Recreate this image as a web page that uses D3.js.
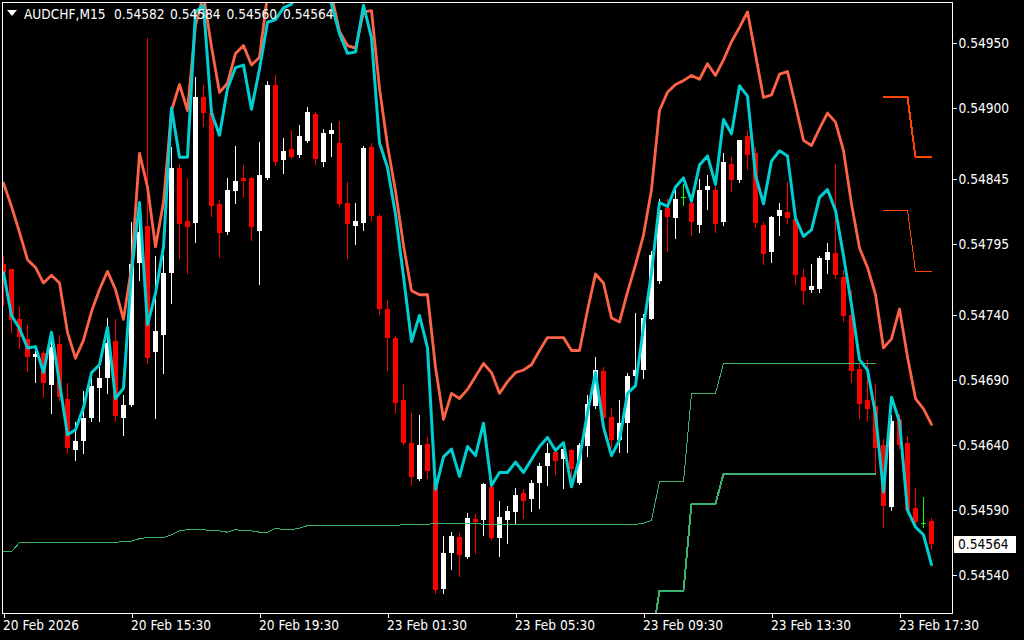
<!DOCTYPE html>
<html><head><meta charset="utf-8">
<script src="https://cdn.jsdelivr.net/npm/d3@7"></script>
<style>html,body{margin:0;padding:0;background:#000;}svg{display:block}</style>
</head><body><svg id="c" width="1024" height="640"></svg>
<script>
const symbolTitle = "AUDCHF,M15";
const headerOHLC = ["0.54582","0.54584","0.54560","0.54564"];
const opens=[0.54780,0.54776,0.54737,0.54722,0.54708,0.54711,0.54687,0.54718,0.54676,0.54636,
0.54643,0.54661,0.54684,0.54692,0.54720,0.54661,0.54671,0.54780,0.54809,0.54712,
0.54725,0.54773,0.54854,0.54813,0.54811,0.54908,0.54896,0.54826,0.54805,0.54836,
0.54846,0.54846,0.54805,0.54846,0.54918,0.54860,0.54868,0.54863,0.54875,0.54895,
0.54859,0.54880,0.54873,0.54827,0.54809,0.54811,0.54870,0.54817,0.54745,0.54723,
0.54675,0.54642,0.54614,0.54641,0.54612,0.54529,0.54557,0.54569,0.54554,0.54583,
0.54582,0.54608,0.54569,0.54582,0.54589,0.54603,0.54599,0.54611,0.54624,0.54635,
0.54629,0.54636,0.54611,0.54640,0.54670,0.54697,0.54662,0.54644,0.54657,0.54693,
0.54698,0.54738,0.54766,0.54823,0.54815,0.54831,0.54827,0.54810,0.54837,0.54837,
0.54812,0.54857,0.54844,0.54878,0.54865,0.54810,0.54789,0.54816,0.54820,0.54814,
0.54770,0.54760,0.54760,0.54783,0.54788,0.54770,0.54740,0.54699,0.54675,0.54670,
0.54640,0.54593,0.54660,0.54642,0.54592,0.54580,0.54582];
const highs=[0.54786,0.54776,0.54747,0.54733,0.54713,0.54713,0.54721,0.54725,0.54688,0.54658,
0.54682,0.54692,0.54700,0.54738,0.54737,0.54679,0.54812,0.54819,0.54954,0.54786,
0.54787,0.54870,0.54857,0.54846,0.54924,0.54918,0.54898,0.54829,0.54846,0.54871,
0.54856,0.54847,0.54874,0.54921,0.54925,0.54877,0.54883,0.54887,0.54901,0.54897,
0.54884,0.54888,0.54890,0.54843,0.54827,0.54871,0.54873,0.54818,0.54752,0.54724,
0.54687,0.54665,0.54663,0.54646,0.54619,0.54570,0.54573,0.54572,0.54588,0.54587,
0.54611,0.54610,0.54597,0.54593,0.54607,0.54606,0.54613,0.54626,0.54642,0.54637,
0.54638,0.54637,0.54642,0.54679,0.54708,0.54700,0.54669,0.54675,0.54696,0.54742,
0.54741,0.54790,0.54830,0.54830,0.54839,0.54841,0.54834,0.54845,0.54848,0.54845,
0.54865,0.54862,0.54875,0.54883,0.54870,0.54812,0.54817,0.54827,0.54843,0.54817,
0.54776,0.54780,0.54786,0.54796,0.54857,0.54775,0.54760,0.54703,0.54706,0.54687,
0.54645,0.54663,0.54664,0.54647,0.54607,0.54600,0.54584];
const lows=[0.54748,0.54727,0.54715,0.54697,0.54689,0.54677,0.54665,0.54675,0.54634,0.54629,
0.54634,0.54659,0.54659,0.54680,0.54659,0.54648,0.54670,0.54767,0.54703,0.54661,
0.54696,0.54750,0.54784,0.54773,0.54797,0.54886,0.54817,0.54785,0.54803,0.54827,
0.54831,0.54798,0.54764,0.54845,0.54856,0.54850,0.54861,0.54862,0.54874,0.54857,
0.54855,0.54863,0.54824,0.54784,0.54795,0.54806,0.54813,0.54741,0.54698,0.54665,
0.54641,0.54609,0.54613,0.54615,0.54526,0.54526,0.54545,0.54539,0.54553,0.54557,
0.54571,0.54568,0.54555,0.54565,0.54580,0.54584,0.54589,0.54592,0.54609,0.54618,
0.54607,0.54608,0.54610,0.54632,0.54669,0.54660,0.54639,0.54635,0.54635,0.54692,
0.54692,0.54737,0.54765,0.54790,0.54800,0.54825,0.54802,0.54804,0.54822,0.54804,
0.54810,0.54836,0.54843,0.54853,0.54808,0.54780,0.54781,0.54802,0.54811,0.54764,
0.54749,0.54758,0.54758,0.54773,0.54769,0.54736,0.54689,0.54661,0.54659,0.54619,
0.54577,0.54590,0.54638,0.54588,0.54580,0.54577,0.54560];
const closes=[0.54773,0.54737,0.54723,0.54708,0.54710,0.54688,0.54716,0.54677,0.54638,0.54643,
0.54661,0.54686,0.54692,0.54719,0.54662,0.54671,0.54780,0.54804,0.54707,0.54728,
0.54773,0.54854,0.54811,0.54808,0.54908,0.54896,0.54824,0.54804,0.54837,0.54844,
0.54844,0.54808,0.54848,0.54918,0.54859,0.54867,0.54862,0.54878,0.54897,0.54860,
0.54881,0.54883,0.54826,0.54811,0.54813,0.54869,0.54817,0.54745,0.54723,0.54673,
0.54642,0.54616,0.54640,0.54620,0.54529,0.54557,0.54570,0.54555,0.54584,0.54581,
0.54610,0.54569,0.54585,0.54589,0.54602,0.54597,0.54611,0.54624,0.54634,0.54628,
0.54637,0.54621,0.54640,0.54672,0.54698,0.54661,0.54644,0.54657,0.54693,0.54698,
0.54738,0.54787,0.54821,0.54816,0.54830,0.54831,0.54812,0.54837,0.54840,0.54811,
0.54858,0.54845,0.54875,0.54863,0.54811,0.54788,0.54816,0.54821,0.54815,0.54771,
0.54759,0.54763,0.54784,0.54789,0.54771,0.54740,0.54697,0.54672,0.54668,0.54638,
0.54593,0.54659,0.54640,0.54590,0.54581,0.54580,0.54564];
const cyanLine=[0.54773,0.54740,0.54730,0.54715,0.54716,0.54696,0.54727,0.54688,0.54648,0.54652,
0.54669,0.54696,0.54702,0.54731,0.54676,0.54684,0.54773,0.54827,0.54733,0.54757,
0.54793,0.54900,0.54862,0.54862,0.54974,0.54979,0.54896,0.54879,0.54915,0.54931,
0.54933,0.54899,0.54930,0.54966,0.54968,0.54977,0.54980,0.54991,0.54998,0.54995,
0.54991,0.54980,0.54957,0.54942,0.54943,0.54979,0.54954,0.54873,0.54854,0.54818,
0.54770,0.54720,0.54740,0.54715,0.54606,0.54631,0.54637,0.54616,0.54639,0.54632,
0.54657,0.54609,0.54619,0.54619,0.54627,0.54619,0.54629,0.54639,0.54646,0.54636,
0.54642,0.54608,0.54630,0.54665,0.54696,0.54654,0.54632,0.54644,0.54680,0.54686,
0.54731,0.54773,0.54827,0.54824,0.54839,0.54846,0.54828,0.54856,0.54863,0.54841,
0.54891,0.54880,0.54917,0.54909,0.54848,0.54826,0.54859,0.54867,0.54863,0.54815,
0.54801,0.54806,0.54831,0.54837,0.54821,0.54786,0.54748,0.54706,0.54698,0.54664,
0.54604,0.54677,0.54658,0.54590,0.54577,0.54571,0.54548];
const orangeLine=[0.54842,0.54824,0.54804,0.54783,0.54777,0.54765,0.54771,0.54765,0.54727,0.54707,
0.54721,0.54743,0.54760,0.54774,0.54760,0.54737,0.54777,0.54865,0.54839,0.54793,
0.54827,0.54898,0.54918,0.54898,0.54964,0.54987,0.54947,0.54912,0.54919,0.54942,
0.54948,0.54933,0.54939,0.54987,0.54995,0.54981,0.54991,0.55002,0.55006,0.55002,
0.54999,0.54987,0.54959,0.54948,0.54946,0.54974,0.54975,0.54915,0.54871,0.54836,
0.54794,0.54759,0.54756,0.54756,0.54700,0.54660,0.54680,0.54676,0.54683,0.54693,
0.54703,0.54696,0.54680,0.54689,0.54696,0.54698,0.54702,0.54713,0.54723,0.54723,
0.54723,0.54713,0.54713,0.54744,0.54772,0.54765,0.54738,0.54735,0.54758,0.54779,
0.54802,0.54837,0.54898,0.54912,0.54918,0.54921,0.54925,0.54922,0.54934,0.54925,
0.54937,0.54951,0.54962,0.54974,0.54941,0.54908,0.54910,0.54926,0.54928,0.54902,
0.54875,0.54871,0.54884,0.54896,0.54889,0.54867,0.54826,0.54792,0.54777,0.54756,
0.54715,0.54722,0.54745,0.54708,0.54676,0.54668,0.54656];
// thin level line (green part: bars 0..109)
const greenThinStart = 0;
const greenThin=[0.54558,0.54558,0.54565,0.54565,0.54565,0.54565,0.54565,0.54565,0.54565,0.54565,
0.54565,0.54565,0.54565,0.54565,0.54565,0.54566,0.54566,0.54568,0.54569,0.54569,
0.54569,0.54571,0.54574,0.54575,0.54575,0.54575,0.54574,0.54574,0.54573,0.54575,
0.54574,0.54574,0.54573,0.54573,0.54576,0.54575,0.54575,0.54576,0.54578,0.54578,
0.54578,0.54578,0.54578,0.54578,0.54578,0.54578,0.54578,0.54578,0.54578,0.54578,
0.54579,0.54579,0.54579,0.54579,0.54580,0.54580,0.54580,0.54580,0.54580,0.54580,
0.54579,0.54579,0.54579,0.54579,0.54579,0.54579,0.54579,0.54579,0.54579,0.54579,
0.54579,0.54579,0.54579,0.54579,0.54579,0.54579,0.54579,0.54579,0.54579,0.54579,
0.54580,0.54582,0.54612,0.54612,0.54612,0.54612,0.54680,0.54680,0.54680,0.54680,
0.54703,0.54703,0.54703,0.54703,0.54703,0.54703,0.54703,0.54703,0.54703,0.54703,
0.54703,0.54703,0.54703,0.54703,0.54703,0.54703,0.54703,0.54703,0.54703,0.54703];
// thick level line (green part: bars 81..109)
const greenThickStart = 81;
const greenThick=[0.54488,0.54528,0.54528,0.54528,0.54528,0.54595,0.54595,0.54595,0.54595,
0.54618,0.54618,0.54618,0.54618,0.54618,0.54618,0.54618,0.54618,0.54618,0.54618,
0.54618,0.54618,0.54618,0.54618,0.54618,0.54618,0.54618,0.54618,0.54618,0.54618];
// red-orange parts of the level lines (bars 110..116)
const stepStart = 110;
const orangeThickStep=[0.54908,0.54908,0.54908,0.54908,0.54862,0.54862,0.54862];
const orangeThinStep=[0.54821,0.54821,0.54821,0.54821,0.54774,0.54774,0.54774];
const priceTicks=[0.54950,0.54900,0.54845,0.54795,0.54740,0.54690,0.54640,0.54590,0.54540];
const timeTickBars=[0,16,32,48,64,80,96,112];
const timeLabels=["20 Feb 2026","20 Feb 15:30","20 Feb 19:30","23 Feb 01:30","23 Feb 05:30","23 Feb 09:30","23 Feb 13:30","23 Feb 17:30"];

const FONT = '"DejaVu Sans Condensed","DejaVu Sans",sans-serif';
const FS = 13.6;
const svg = d3.select('#c');
svg.append('rect').attr('width',1024).attr('height',640).attr('fill','#000');

const n = opens.length;
const x = d3.scaleLinear().domain([0, n-1]).range([3, 3 + 8*(n-1)]);
const y = d3.scaleLinear().domain([0.54950, 0.54540]).range([43, 575]);

const frame = {l:2, t:2, r:952, b:613};
svg.append('clipPath').attr('id','clip').append('rect')
  .attr('x',frame.l+1).attr('y',frame.t+1).attr('width',frame.r-frame.l-1).attr('height',frame.b-frame.t-1);
const g = svg.append('g').attr('clip-path','url(#clip)');

// candles
const bars = d3.range(n).map(i=>({i,o:opens[i],h:highs[i],l:lows[i],c:closes[i]}));
const col = d => d.c>d.o ? '#ffffff' : (d.c<d.o ? '#ff0000' : '#00ff00');
const cg = g.append('g').attr('shape-rendering','crispEdges');
cg.selectAll('rect.wick').data(bars).join('rect').attr('class','wick')
  .attr('x',d=>x(d.i)).attr('width',1)
  .attr('y',d=>Math.round(y(d.h)))
  .attr('height',d=>Math.max(1, Math.round(y(d.l))-Math.round(y(d.h))+1))
  .attr('fill',col);
cg.selectAll('rect.body').data(bars).join('rect').attr('class','body')
  .attr('x',d=>x(d.i)-2).attr('width',5)
  .attr('y',d=>Math.round(Math.min(y(d.o),y(d.c))))
  .attr('height',d=>Math.max(1, Math.round(Math.abs(y(d.o)-y(d.c)))))
  .attr('fill',col);

// lines
function drawLine(vals, start, color, width, crisp){
  const pts = vals.map((v,k)=>[x(start+k)+0.5, y(v)]);
  g.append('path').attr('d', d3.line()(pts)).attr('fill','none')
    .attr('stroke',color).attr('stroke-width',width)
    .attr('stroke-linejoin','round').attr('stroke-linecap','round')
    .attr('shape-rendering', crisp ? 'crispEdges' : 'auto');
}
drawLine(greenThin, greenThinStart, '#3cb371', 1, true);
drawLine(greenThick, greenThickStart, '#3cb371', 2, true);
drawLine(orangeThickStep, stepStart, '#ff4500', 2, true);
drawLine(orangeThinStep, stepStart, '#ff4500', 1, true);
drawLine(orangeLine, 0, '#ff6347', 2.8, false);
drawLine(cyanLine, 0, '#00ced1', 3, false);

// frame
svg.append('rect').attr('x',frame.l+0.5).attr('y',frame.t+0.5)
  .attr('width',frame.r-frame.l).attr('height',frame.b-frame.t)
  .attr('fill','none').attr('stroke','#ffffff').attr('stroke-width',1)
  .attr('shape-rendering','crispEdges');

// price axis
const ya = d3.axisRight(y).tickValues(priceTicks).tickSize(4).tickPadding(2)
  .tickFormat(d3.format('.5f'));
const yg = svg.append('g').attr('transform',`translate(${frame.r+0.5},0)`).call(ya);
yg.select('.domain').remove();
yg.selectAll('line').attr('stroke','#fff').attr('shape-rendering','crispEdges');
yg.selectAll('text').attr('fill','#fff').style('font-family',FONT).style('font-size',FS+'px');

// time axis
const xa = d3.axisBottom(x).tickValues(timeTickBars).tickSize(4).tickPadding(3)
  .tickFormat((d,k)=>timeLabels[k]);
const xg = svg.append('g').attr('transform',`translate(0.5,${frame.b+0.5})`).call(xa);
xg.select('.domain').remove();
xg.selectAll('line').attr('stroke','#fff').attr('shape-rendering','crispEdges');
xg.selectAll('text').attr('fill','#fff').attr('text-anchor','start').attr('x',-1)
  .style('font-family',FONT).style('font-size',FS+'px');

// current price label
const last = closes[n-1];
svg.append('rect').attr('x',954).attr('y',Math.round(y(last))-8).attr('width',62).attr('height',17)
  .attr('fill','#fff').attr('shape-rendering','crispEdges');
svg.append('text').attr('x',958).attr('y',y(last)).attr('dy','0.36em')
  .attr('fill','#000').style('font-family',FONT).style('font-size',FS+'px')
  .text(d3.format('.5f')(last));

// header
svg.append('path').attr('d','M7,10L17,10L12,16Z').attr('fill','#fff');
svg.append('text').attr('x',24).attr('y',19).attr('fill','#fff')
  .style('font-family',FONT).style('font-size',FS+'px').text(symbolTitle);
const hx=[114,170,226.5,283];
headerOHLC.forEach((t,k)=>svg.append('text').attr('x',hx[k]).attr('y',19).attr('fill','#fff')
  .style('font-family',FONT).style('font-size',FS+'px').text(t));
</script></body></html>
